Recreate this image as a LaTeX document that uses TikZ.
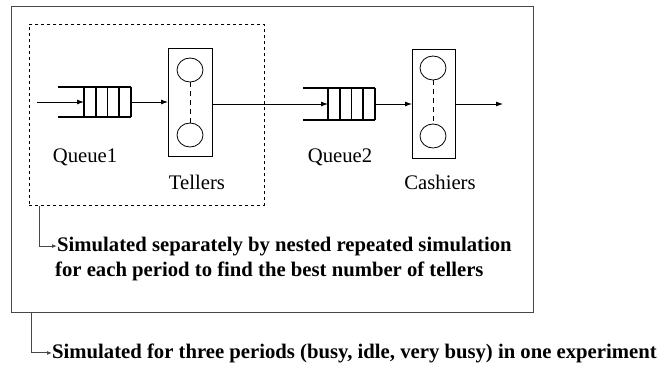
\documentclass[tikz,border=0pt]{standalone}
\usepackage{fontspec}
\setmainfont{Liberation Serif}
\usetikzlibrary{arrows.meta,shapes.geometric}
\begin{document}
\begin{tikzpicture}[x=1pt,y=-1pt,
  frame/.style={draw=black!72,line width=1pt,inner sep=0pt,anchor=north west},
  stage/.style={draw=black,line width=0.9pt,inner sep=0pt,anchor=north west},
  server/.style={draw=black,ellipse,line width=0.8pt,minimum width=26pt,minimum height=24pt,inner sep=0pt},
  rail/.style={line width=2.2pt},
  bar/.style={line width=1.6pt},
  flow/.style={line width=0.9pt,-{Latex[length=7pt,width=5pt]}},
  link/.style={draw=black!72,line width=1pt,-{Latex[length=5pt,width=4pt]}},
  lbl/.style={font=\fontsize{20.7}{24}\selectfont,inner sep=0pt},
  note/.style={font=\fontsize{20.7}{24}\selectfont\bfseries,inner sep=0pt,anchor=base west}]
\useasboundingbox (0,0) rectangle (662,370);

% boxes
\node[frame,minimum width=522.5pt,minimum height=306pt] (outer) at (10.5,6) {};
\node[frame,draw=black,dashed,line width=0.9pt,minimum width=235pt,minimum height=181pt] (group) at (29,24) {};
\node[stage,minimum width=44pt,minimum height=108pt] (tellers) at (168,48) {};
\node[stage,minimum width=43pt,minimum height=109pt] (cashiers) at (412,49) {};

% servers
\node[server] (t1) at (190,70) {};
\node[server] (t2) at (190,135) {};
\node[server] (c1) at (433,68) {};
\node[server] (c2) at (433,136) {};
\draw[line width=0.8pt,dash pattern=on 5pt off 4pt] (t1.south) -- (t2.north);
\draw[line width=0.8pt,dash pattern=on 5pt off 4pt] (c1.south) -- (c2.north);

% queue 1
\draw[rail] (58,87) -- (131,87) (58,117) -- (131,117);
\foreach \x in {84,95.75,107.5,119.25,131} \draw[bar] (\x,87) -- (\x,117);
\coordinate (q1src) at (37,102);
\coordinate (q1in) at (84,102);
\coordinate (q1out) at (131,102);

% queue 2
\draw[rail] (303,88) -- (375,88) (303,120) -- (375,120);
\foreach \x in {328,339.75,351.5,363.25,375} \draw[bar] (\x,88) -- (\x,120);
\coordinate (q2in) at (328,104);
\coordinate (q2out) at (375,104);
\coordinate (sink) at (503,104);

% flow
\draw[flow] (q1src) -- (q1in);
\draw[flow] (q1out) -- (q1out -| tellers.west);
\draw[flow] (tellers.east |- q2in) -- (q2in);
\draw[flow] (q2out) -- (q2out -| cashiers.west);
\draw[flow] (cashiers.east |- sink) -- (sink);

% labels
\node[lbl] (lq1) at (85,157) {Queue1};
\node[lbl] (lt) at (197,182) {Tellers};
\node[lbl] (lq2) at (340,157) {Queue2};
\node[lbl] (lc) at (440,182) {Cashiers};

% notes
\node[note] (n1) at (57,251) {Simulated separately by nested repeated simulation};
\node[note] (n1b) at (55,276) {for each period to find the best number of tellers};
\node[note] (n2) at (52,358) {Simulated for three periods (busy, idle, very busy) in one experiment};
\draw[link] ([xshift=10pt]group.south west) |- (n1.west);
\draw[link] ([xshift=20.5pt]outer.south west) |- (n2.west);
\end{tikzpicture}
\end{document}
